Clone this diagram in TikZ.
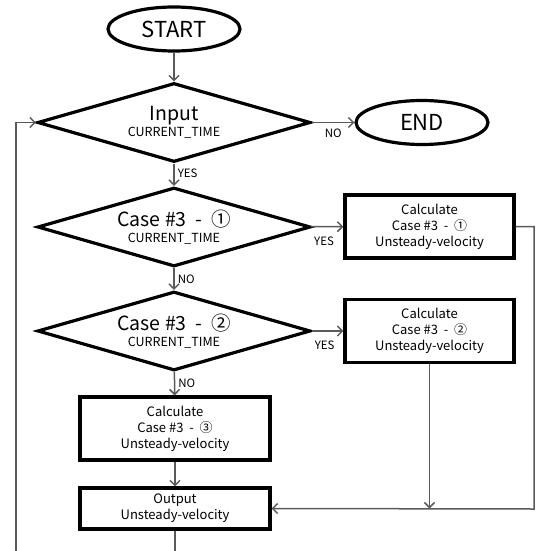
\documentclass[tikz,border=0pt]{standalone}
\usepackage{fontspec}
\setmainfont{Noto Sans CJK KR}
\usetikzlibrary{shapes.geometric,arrows.meta}

\definecolor{linegray}{RGB}{90,90,90}

\newcommand{\bigtxt}{\fontsize{19.5}{21}\selectfont}
\newcommand{\smalltxt}{\fontsize{12.5}{14}\selectfont}

\tikzset{
    terminal/.style={draw,line width=3.2pt,ellipse,inner sep=0pt,
      minimum width=132pt,minimum height=44pt,font=\fontsize{22}{24}\selectfont},
    decision/.style={draw,line width=3.2pt,diamond,inner sep=0pt,aspect=3.45,
      minimum width=273pt,minimum height=79pt,align=center,font=\bigtxt},
    process/.style={draw,line width=3.2pt,rectangle,inner sep=0pt,
      minimum width=169pt,minimum height=63pt,align=center,
      font=\fontsize{13}{16}\selectfont},
    flow/.style={draw=linegray,line width=1.5pt,
      -{Straight Barb[length=5pt,width=10pt]}},
    plain/.style={draw=linegray,line width=1.5pt},
    answer/.style={font=\fontsize{11.5}{12}\selectfont,inner sep=0pt}
}

\begin{document}
\begin{tikzpicture}[x=1pt,y=-1pt]
    \useasboundingbox (0,0) rectangle (535,551);
    \node[terminal] (start) at (174,29) {START};
    \node[decision] (input) at (174,122.5) {Input\\[-5pt]{\smalltxt CURRENT\_TIME}};
    \node[terminal] (end) at (422,122.5) {END};
    \node[decision] (caseA) at (174,227) {Case \#3 \ - \ ①\\[-5pt]{\smalltxt CURRENT\_TIME}};
    \node[process] (calcA) at (429.5,226.5) {Calculate\\Case \#3 \ - \ ①\\Unsteady-velocity};
    \node[decision] (caseB) at (174,331) {Case \#3 \ - \ ②\\[-5pt]{\smalltxt CURRENT\_TIME}};
    \node[process] (calcB) at (429.5,331) {Calculate\\Case \#3 \ - \ ②\\Unsteady-velocity};
    \node[process,minimum width=190pt] (calcC) at (175,428.5) {Calculate\\Case \#3 \ - \ ③\\Unsteady-velocity};
    \node[process,minimum width=190pt,minimum height=41pt] (output) at (175,508.5) {Output\\Unsteady-velocity};
    \coordinate (rightturn) at (534,509);
    \coordinate (leftend) at (16,551);
    \coordinate (outend) at (175,551);

    \draw[flow] (start) -- (input);
    \draw[flow] (input) -- (end) node[answer,pos=0.5,below=6pt] {NO};
    \draw[flow] (input) -- (caseA) node[answer,pos=0.45,right=3pt] {YES};
    \draw[flow] (caseA) -- (calcA) node[answer,pos=0.4,below=9pt] {YES};
    \draw[flow] (caseA) -- (caseB) node[answer,pos=0.5,right=3pt] {NO};
    \draw[flow] (caseB) -- (calcB) node[answer,pos=0.4,below=9pt] {YES};
    \draw[flow] (caseB) -- (calcC) node[answer,pos=0.5,right=3pt] {NO};
    \draw[flow] (calcC) -- (output);
    \draw[flow] (calcA.east) -| (rightturn) -- (output.east);
    \draw[flow] (calcB.south) -- (calcB.south |- output.east);
    \draw[plain] (output.south) -- (outend);
    \draw[flow] (leftend) |- (input.west);
\end{tikzpicture}
\end{document}
